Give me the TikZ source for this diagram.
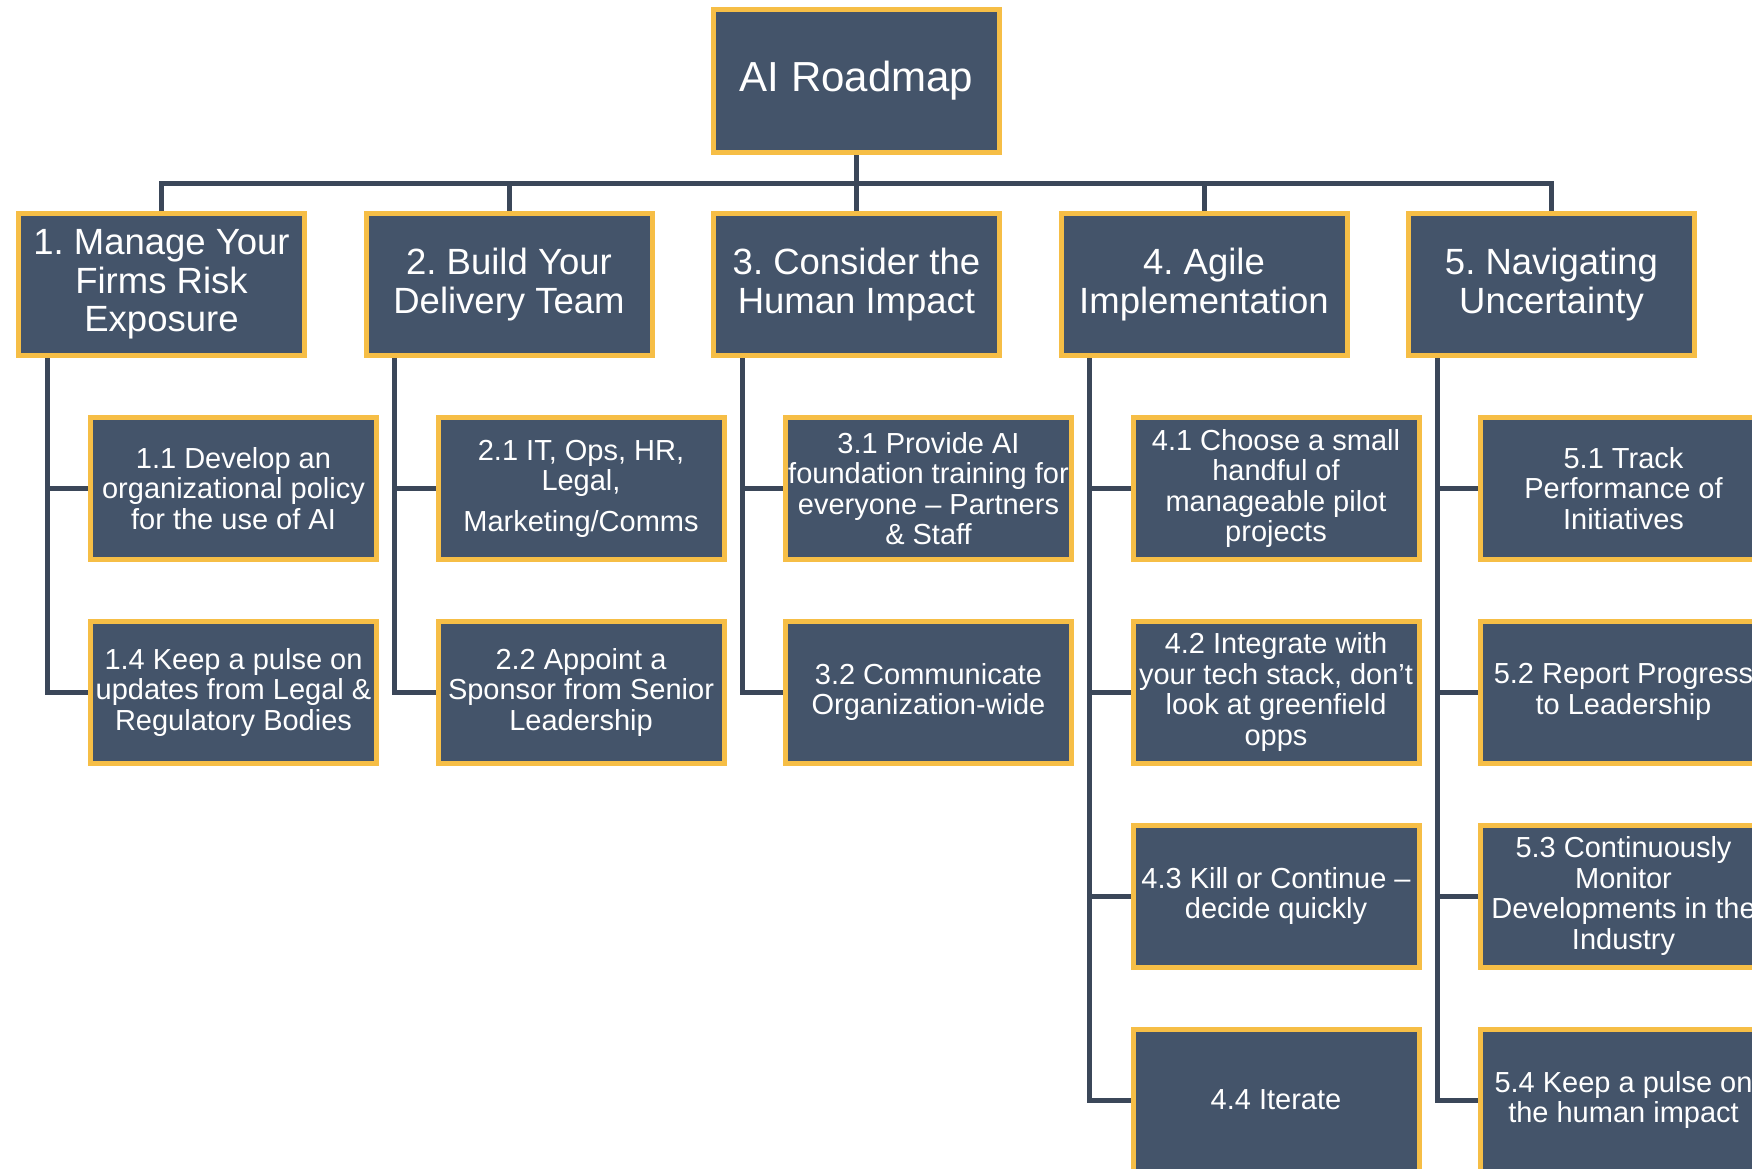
\documentclass[tikz,border=0pt]{standalone}
\usepackage{fontspec}
\setmainfont{Liberation Sans}
\definecolor{boxfill}{HTML}{44546A}
\definecolor{boxedge}{HTML}{F6BE46}
\definecolor{linec}{HTML}{3B4759}
\begin{document}
\frenchspacing
\begin{tikzpicture}[x=1pt,y=-1pt,
  box/.style={draw=boxedge, fill=boxfill, line width=5pt, text=white,
    minimum width=286pt, minimum height=142pt, inner sep=0pt, align=center},
  rootbox/.style={box, font=\fontsize{42}{46}\selectfont, minimum height=143pt},
  grp/.style={box, font=\fontsize{36.5}{38.5}\selectfont},
  task/.style={box, font=\fontsize{29}{30.5}\selectfont},
  conn/.style={draw=linec, line width=5pt}]
\useasboundingbox (0,0) rectangle (1752,1168);

% root
\node[rootbox] (root) at (856.5,81) {AI Roadmap};

% level 1
\node[grp] (g1) at (161.5,284.5) {1. Manage Your\\Firms Risk\\Exposure};
\node[grp] (g2) at (509,284.5) {2. Build Your\\Delivery Team};
\node[grp] (g3) at (856.5,284.5) {3. Consider the\\Human Impact};
\node[grp] (g4) at (1204,284.5) {4. Agile\\Implementation};
\node[grp] (g5) at (1551.5,284.5) {5. Navigating\\Uncertainty};

% level 2
\node[task] (c11) at (233.5,488.5) {1.1 Develop an\\organizational policy\\for the use of AI};
\node[task] (c14) at (233.5,692) {1.4 Keep a pulse on\\updates from Legal \&\\Regulatory Bodies};
\node[task] (c21) at (581,488.5) {2.1 IT, Ops, HR,\\Legal,\\[10pt]Marketing/Comms};
\node[task] (c22) at (581,692) {2.2 Appoint a\\Sponsor from Senior\\Leadership};
\node[task] (c31) at (928.5,488.5) {3.1 Provide AI\\foundation training for\\everyone – Partners\\\& Staff};
\node[task] (c32) at (928.5,692) {3.2 Communicate\\Organization-wide};
\node[task] (c41) at (1276,488.5) {4.1 Choose a small\\handful of\\manageable pilot\\projects};
\node[task] (c42) at (1276,692) {4.2 Integrate with\\your tech stack, don’t\\look at greenfield\\opps};
\node[task] (c43) at (1276,896) {4.3 Kill or Continue –\\decide quickly};
\node[task] (c44) at (1276,1100) {4.4 Iterate};
\node[task] (c51) at (1623.5,488.5) {5.1 Track\\Performance of\\Initiatives};
\node[task] (c52) at (1623.5,692) {5.2 Report Progress\\to Leadership};
\node[task] (c53) at (1623.5,896) {5.3 Continuously\\Monitor\\Developments in the\\Industry};
\node[task] (c54) at (1623.5,1100) {5.4 Keep a pulse on\\the human impact};

% connector helpers
\coordinate (bus) at (0,183);
\coordinate (v1) at (47,0);
\coordinate (v2) at (394.5,0);
\coordinate (v3) at (742,0);
\coordinate (v4) at (1089.5,0);
\coordinate (v5) at (1437,0);

% top connectors
\draw[conn] (root.south) -- (root.south |- bus);
\draw[conn] (g1.north) -- (g1.north |- bus) -- (g5.north |- bus) -- (g5.north);
\draw[conn] (g2.north) -- (g2.north |- bus);
\draw[conn] (g3.north) -- (g3.north |- bus);
\draw[conn] (g4.north) -- (g4.north |- bus);

% group connectors
\draw[conn] (v1 |- g1.south) |- (c11.west);
\draw[conn] (v1 |- g1.south) |- (c14.west);
\draw[conn] (v2 |- g2.south) |- (c21.west);
\draw[conn] (v2 |- g2.south) |- (c22.west);
\draw[conn] (v3 |- g3.south) |- (c31.west);
\draw[conn] (v3 |- g3.south) |- (c32.west);
\draw[conn] (v4 |- g4.south) |- (c41.west);
\draw[conn] (v4 |- g4.south) |- (c42.west);
\draw[conn] (v4 |- g4.south) |- (c43.west);
\draw[conn] (v4 |- g4.south) |- (c44.west);
\draw[conn] (v5 |- g5.south) |- (c51.west);
\draw[conn] (v5 |- g5.south) |- (c52.west);
\draw[conn] (v5 |- g5.south) |- (c53.west);
\draw[conn] (v5 |- g5.south) |- (c54.west);
\end{tikzpicture}
\end{document}
